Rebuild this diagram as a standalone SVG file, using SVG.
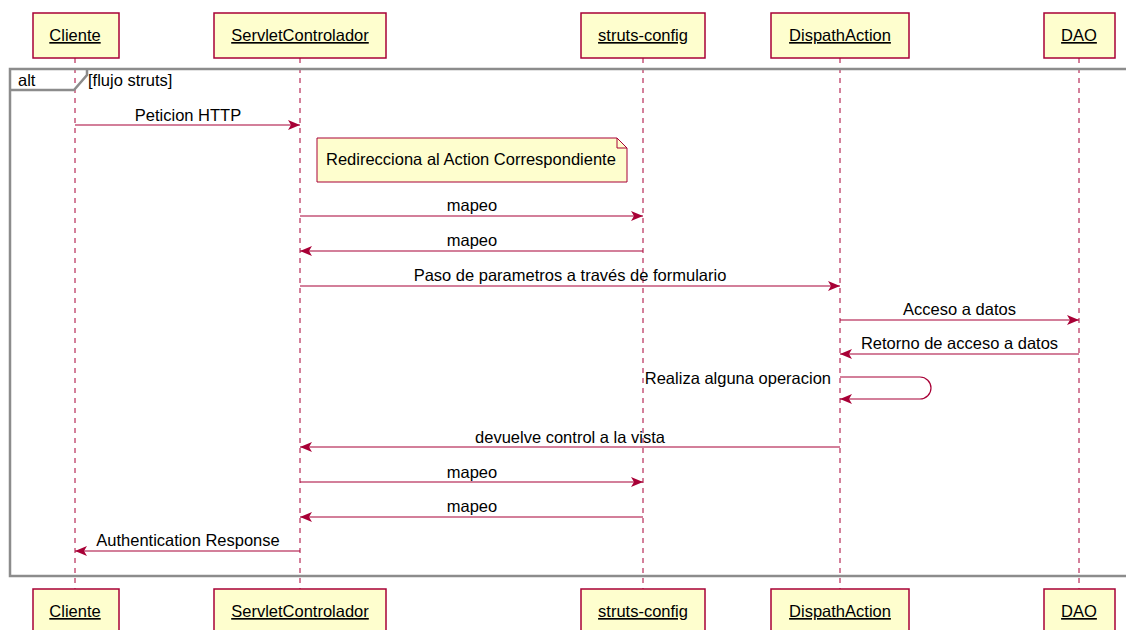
<svg xmlns="http://www.w3.org/2000/svg" width="1126" height="630" viewBox="0 0 1126 630">
  <style>
    text { font-family: "Liberation Sans", Arial, sans-serif; font-size: 16.5px; fill: #000000; }
    .box { fill: #FEFECE; stroke: #A80036; stroke-width: 1.5; }
    .pname { text-anchor: middle; text-decoration: underline; }
    .life { stroke: #A80036; stroke-width: 1; stroke-dasharray: 5,5; fill: none; }
    .msg { stroke: #A80036; stroke-width: 1.2; fill: none; }
    .lbl { text-anchor: middle; }
    .frame { fill: none; stroke: #8C8C8C; stroke-width: 2.5; }
    .note { fill: #FEFECE; stroke: #A80036; stroke-width: 1; }
  </style>
  <defs>
    <marker id="arrow" viewBox="0 0 12 12" refX="12" refY="6" markerWidth="12" markerHeight="12" markerUnits="userSpaceOnUse" orient="auto">
      <polygon points="0,1 12,6 0,11 3,6" fill="#A80036"/>
    </marker>
  </defs>

  <rect width="1126" height="630" fill="#FFFFFF"/>

  <!-- lifelines -->
  <g id="lifelines">
    <line class="life" x1="75" y1="58" x2="75" y2="589"/>
    <line class="life" x1="300" y1="58" x2="300" y2="589"/>
    <line class="life" x1="643" y1="58" x2="643" y2="589"/>
    <line class="life" x1="840" y1="58" x2="840" y2="589"/>
    <line class="life" x1="1079" y1="58" x2="1079" y2="589"/>
  </g>

  <!-- alt fragment -->
  <g id="alt-frame">
    <rect class="frame" x="10" y="69" width="1140" height="507"/>
    <path class="frame" d="M10,90 H74 L87,75 V69"/>
    <text x="18" y="86">alt</text>
    <text x="88" y="86">[flujo struts]</text>
  </g>

  <!-- participants (top) -->
  <g id="p-cliente">
    <rect class="box" x="33" y="13" width="86" height="45"/>
    <text class="pname" x="75" y="41">Cliente</text>
  </g>
  <g id="p-servlet">
    <rect class="box" x="214" y="13" width="172" height="45"/>
    <text class="pname" x="300" y="41">ServletControlador</text>
  </g>
  <g id="p-struts">
    <rect class="box" x="581" y="13" width="124" height="45"/>
    <text class="pname" x="643" y="41">struts-config</text>
  </g>
  <g id="p-dispath">
    <rect class="box" x="771" y="13" width="138" height="45"/>
    <text class="pname" x="840" y="41">DispathAction</text>
  </g>
  <g id="p-dao">
    <rect class="box" x="1044" y="13" width="71" height="45"/>
    <text class="pname" x="1079" y="41">DAO</text>
  </g>

  <!-- participants (bottom) -->
  <g id="p-cliente-foot">
    <rect class="box" x="33" y="589" width="86" height="45"/>
    <text class="pname" x="75" y="617">Cliente</text>
  </g>
  <g id="p-servlet-foot">
    <rect class="box" x="214" y="589" width="172" height="45"/>
    <text class="pname" x="300" y="617">ServletControlador</text>
  </g>
  <g id="p-struts-foot">
    <rect class="box" x="581" y="589" width="124" height="45"/>
    <text class="pname" x="643" y="617">struts-config</text>
  </g>
  <g id="p-dispath-foot">
    <rect class="box" x="771" y="589" width="138" height="45"/>
    <text class="pname" x="840" y="617">DispathAction</text>
  </g>
  <g id="p-dao-foot">
    <rect class="box" x="1044" y="589" width="71" height="45"/>
    <text class="pname" x="1079" y="617">DAO</text>
  </g>

  <!-- note -->
  <g id="note-redirect">
    <path class="note" d="M317,138 H617 L627,148 V182 H317 Z"/>
    <path d="M617,138 V148 H627" fill="none" stroke="#A80036" stroke-width="1"/>
    <text x="326" y="165">Redirecciona al Action Correspondiente</text>
  </g>

  <!-- messages -->
  <g id="connectors">
    <line class="msg" x1="75" y1="125" x2="300" y2="125" marker-end="url(#arrow)"/>
    <text class="lbl" x="188" y="120.5">Peticion HTTP</text>

    <line class="msg" x1="300" y1="216" x2="643" y2="216" marker-end="url(#arrow)"/>
    <text class="lbl" x="472" y="211">mapeo</text>

    <line class="msg" x1="643" y1="251" x2="300" y2="251" marker-end="url(#arrow)"/>
    <text class="lbl" x="472" y="246">mapeo</text>

    <line class="msg" x1="300" y1="286" x2="840" y2="286" marker-end="url(#arrow)"/>
    <text class="lbl" x="570" y="281">Paso de parametros a través de formulario</text>

    <line class="msg" x1="840" y1="320" x2="1079" y2="320" marker-end="url(#arrow)"/>
    <text class="lbl" x="959.5" y="315">Acceso a datos</text>

    <line class="msg" x1="1079" y1="354" x2="840" y2="354" marker-end="url(#arrow)"/>
    <text class="lbl" x="959.5" y="349">Retorno de acceso a datos</text>

    <path class="msg" d="M840,377 H920 A11,11 0 0 1 920,399 H840" marker-end="url(#arrow)"/>
    <text x="831" y="384" text-anchor="end">Realiza alguna operacion</text>

    <line class="msg" x1="840" y1="447" x2="300" y2="447" marker-end="url(#arrow)"/>
    <text class="lbl" x="570" y="442.5">devuelve control a la vista</text>

    <line class="msg" x1="300" y1="482" x2="643" y2="482" marker-end="url(#arrow)"/>
    <text class="lbl" x="472" y="477.5">mapeo</text>

    <line class="msg" x1="643" y1="517" x2="300" y2="517" marker-end="url(#arrow)"/>
    <text class="lbl" x="472" y="512">mapeo</text>

    <line class="msg" x1="300" y1="551" x2="75" y2="551" marker-end="url(#arrow)"/>
    <text class="lbl" x="188" y="546">Authentication Response</text>
  </g>
</svg>
